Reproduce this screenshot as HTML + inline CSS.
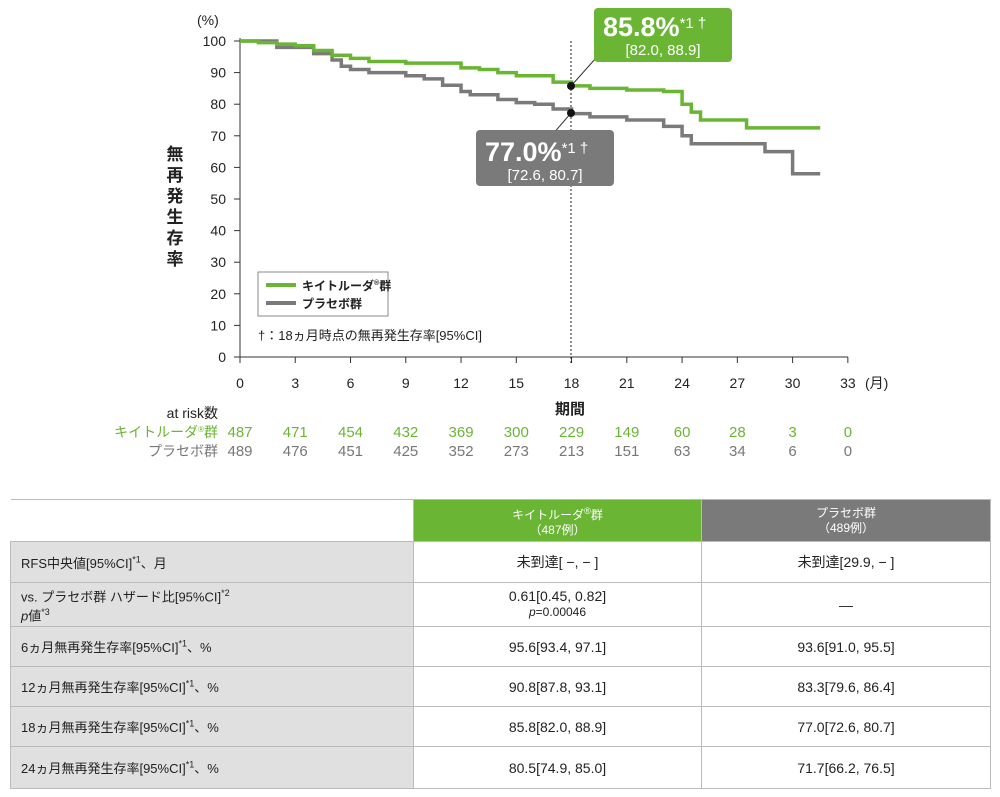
<!DOCTYPE html>
<html><head><meta charset="utf-8"><style>
body{margin:0;background:#fff;width:1000px;height:797px;overflow:hidden;font-family:"Liberation Sans","Noto Sans CJK JP",sans-serif;}
svg text{font-family:"Liberation Sans","Noto Sans CJK JP",sans-serif;}
table{position:absolute;left:10px;top:499px;border-collapse:collapse;font-size:13px;color:#222;table-layout:fixed;width:980px;}
td{border:1px solid #bbb;padding:0;}
td.l{background:#e0e0e0;padding-left:10px;}
td.c{text-align:center;font-size:14px;}
sup{font-size:9px;}
</style></head><body>
<svg width="1000" height="500" style="position:absolute;left:0;top:0">
<g id="ax" stroke="#333" stroke-width="1" fill="none"></g>
<g id="lab" font-size="14" fill="#222"></g>
<line x1="571" y1="41" x2="571" y2="365" stroke="#222" stroke-dasharray="2,2"/>
<path id="gy" fill="none" stroke="#7a7a7a" stroke-width="3.5"/>
<path id="gr" fill="none" stroke="#6ab534" stroke-width="3.5"/>
<line x1="571" y1="86" x2="596" y2="58" stroke="#333"/>
<line x1="571" y1="113" x2="552" y2="135" stroke="#333"/>
<circle cx="571" cy="86" r="4" fill="#111"/><circle cx="571" cy="113" r="4" fill="#111"/>
<rect x="594" y="8" width="138" height="54" rx="4" fill="#6ab534"/>
<text x="603" y="36" font-size="27" font-weight="bold" fill="#fff">85.8%<tspan font-size="15" font-weight="normal" dy="-8">*1 †</tspan></text>
<text x="663" y="55" font-size="15" fill="#fff" text-anchor="middle">[82.0, 88.9]</text>
<rect x="476" y="130" width="138" height="56" rx="4" fill="#7a7a7a"/>
<text x="485" y="161" font-size="27" font-weight="bold" fill="#fff">77.0%<tspan font-size="15" font-weight="normal" dy="-8">*1 †</tspan></text>
<text x="545" y="180" font-size="15" fill="#fff" text-anchor="middle">[72.6, 80.7]</text>
<text x="197" y="25" font-size="14" fill="#222">(%)</text>
<text font-size="17" font-weight="bold" fill="#222" x="175" y="160" text-anchor="middle"><tspan x="175" dy="0">無</tspan><tspan x="175" dy="21">再</tspan><tspan x="175" dy="21">発</tspan><tspan x="175" dy="21">生</tspan><tspan x="175" dy="21">存</tspan><tspan x="175" dy="21">率</tspan></text>
<rect x="258" y="272" width="130" height="44" fill="#fff" stroke="#888"/>
<line x1="266" y1="285" x2="296" y2="285" stroke="#6ab534" stroke-width="4"/>
<line x1="266" y1="303" x2="296" y2="303" stroke="#7a7a7a" stroke-width="4"/>
<text x="302" y="290" font-size="12" font-weight="bold" fill="#222">キイトルーダ<tspan font-size="7" dy="-5">®</tspan><tspan dy="5">群</tspan></text>
<text x="302" y="308" font-size="12" font-weight="bold" fill="#222">プラセボ群</text>
<text x="258" y="340" font-size="13" fill="#222">†：18ヵ月時点の無再発生存率[95%CI]</text>
<text x="865" y="388" font-size="14" fill="#222">(月)</text>
<text x="555" y="414" font-size="15" font-weight="bold" fill="#222">期間</text>
<text x="218" y="418" font-size="14" fill="#222" text-anchor="end">at risk数</text>
<text x="218" y="437" font-size="14" fill="#6ab534" text-anchor="end">キイトルーダ<tspan font-size="8" dy="-5">®</tspan><tspan dy="5">群</tspan></text>
<text x="218" y="456" font-size="14" fill="#777" text-anchor="end">プラセボ群</text>
<g id="risk" font-size="15" text-anchor="middle"></g>
</svg>
<table>
<colgroup><col style="width:403px"><col style="width:288px"><col style="width:289px"></colgroup>
<tr style="height:42px"><td style="border:none;border-top:1px solid #bbb"></td><td class="c" style="background:#6ab534;color:#fff;font-size:12px;line-height:15px">キイトルーダ<sup>®</sup>群<br>（487例）</td><td class="c" style="background:#7a7a7a;color:#fff;font-size:12px;line-height:15px">プラセボ群<br>（489例）</td></tr>
<tr style="height:41px"><td class="l">RFS中央値[95%CI]<sup>*1</sup>、月</td><td class="c">未到達[ −, − ]</td><td class="c">未到達[29.9, − ]</td></tr>
<tr style="height:44px"><td class="l" style="line-height:14px">vs. プラセボ群 ハザード比[95%CI]<sup>*2</sup><br><i>p</i>値<sup>*3</sup></td><td class="c" style="line-height:15px">0.61[0.45, 0.82]<br><span style="font-size:12px"><i>p</i>=0.00046</span></td><td class="c">—</td></tr>
<tr style="height:40px"><td class="l">6ヵ月無再発生存率[95%CI]<sup>*1</sup>、%</td><td class="c">95.6[93.4, 97.1]</td><td class="c">93.6[91.0, 95.5]</td></tr>
<tr style="height:40px"><td class="l">12ヵ月無再発生存率[95%CI]<sup>*1</sup>、%</td><td class="c">90.8[87.8, 93.1]</td><td class="c">83.3[79.6, 86.4]</td></tr>
<tr style="height:40px"><td class="l">18ヵ月無再発生存率[95%CI]<sup>*1</sup>、%</td><td class="c">85.8[82.0, 88.9]</td><td class="c">77.0[72.6, 80.7]</td></tr>
<tr style="height:42px"><td class="l">24ヵ月無再発生存率[95%CI]<sup>*1</sup>、%</td><td class="c">80.5[74.9, 85.0]</td><td class="c">71.7[66.2, 76.5]</td></tr>
</table>
<script>
const X=m=>240+m*18.42, Y=p=>357-p*3.16;
let ax='',lab='';
ax+=`<path d="M${X(0)},${Y(100)-3}V${Y(0)}H${X(33)}"/>`;
for(let p=0;p<=100;p+=10){ax+=`<line x1="234" x2="240" y1="${Y(p)}" y2="${Y(p)}"/>`;lab+=`<text x="226" y="${Y(p)+5}" text-anchor="end">${p}</text>`;}
for(let m=0;m<=33;m+=3){ax+=`<line x1="${X(m)}" x2="${X(m)}" y1="357" y2="363"/>`;lab+=`<text x="${X(m)}" y="388" text-anchor="middle">${m}</text>`;}
document.getElementById('ax').innerHTML=ax;document.getElementById('lab').innerHTML=lab;
function path(pts){let d=`M${X(pts[0][0])},${Y(pts[0][1])}`;for(let i=1;i<pts.length;i++){d+=`H${X(pts[i][0])}V${Y(pts[i][1])}`;}return d;}
const g=[[0,100],[1,99.5],[2,99],[3,98.5],[4,97],[5,95.5],[6,94.5],[7,93.5],[9,93],[12,91.5],[13,91],[14,90],[15,89],[17,87],[18,85.8],[19,85],[21,84.5],[23,84],[24,80],[24.5,77.5],[25,75],[27.5,75],[27.5,72.5],[31.5,72.5]];
const y=[[0,100],[2,98],[4,96],[5,94],[5.5,92],[6,91],[7,90],[9,89],[10,88],[11,86],[12,84],[12.5,83],[14,81.5],[15,80.5],[16,80],[17,78.5],[18,77],[19,76],[21,75],[23,73],[24,70],[24.5,67.5],[28,67.5],[28.5,65],[30,65],[30,58],[31.5,58]];
document.getElementById('gr').setAttribute('d',path(g));document.getElementById('gy').setAttribute('d',path(y));
const a=[487,471,454,432,369,300,229,149,60,28,3,0],b=[489,476,451,425,352,273,213,151,63,34,6,0];let r='';
a.forEach((v,i)=>{r+=`<text x="${X(i*3)}" y="437" fill="#6ab534">${v}</text><text x="${X(i*3)}" y="456" fill="#777">${b[i]}</text>`;});
document.getElementById('risk').innerHTML=r;
</script>
</body></html>
